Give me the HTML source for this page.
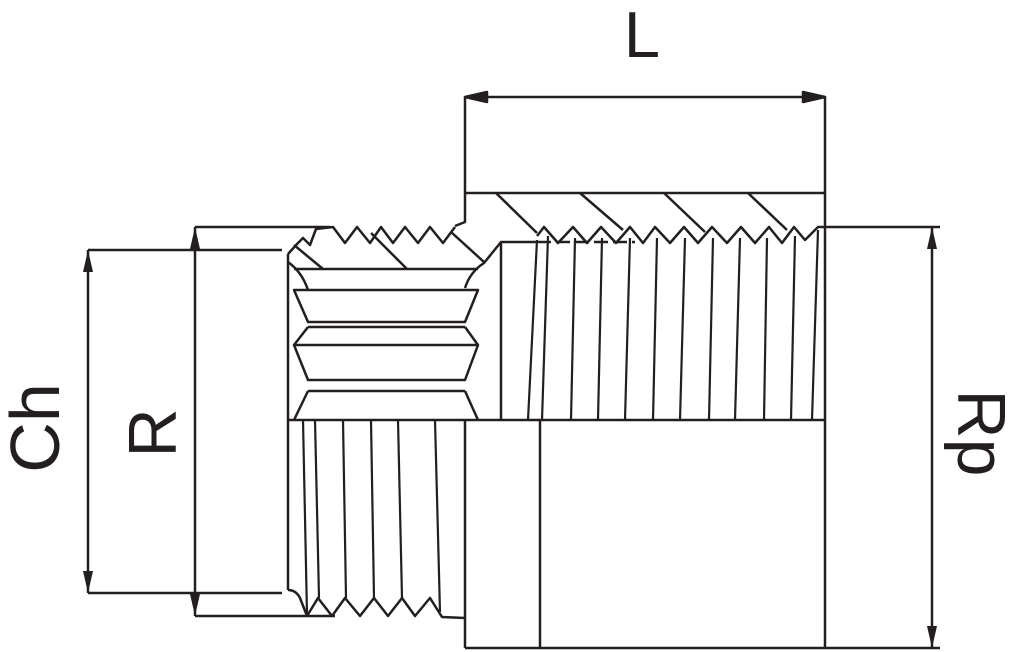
<!DOCTYPE html>
<html><head><meta charset="utf-8"><style>
html,body{margin:0;padding:0;background:#fff;width:1024px;height:652px;overflow:hidden}
svg{display:block}
text{font-family:"Liberation Sans",sans-serif;fill:#231f20}
</style></head><body>
<svg width="1024" height="652" viewBox="0 0 1024 652" xmlns="http://www.w3.org/2000/svg">
<defs>
<marker id="a" viewBox="0 0 10 10" refX="10" refY="5" markerWidth="7" markerHeight="7" markerUnits="userSpaceOnUse" orient="auto" overflow="visible">
<path d="M-12,-3.5 L0,5 L-12,13.5 Z" transform="translate(10,0) scale(1) translate(-10,0)" fill="#231f20"/>
</marker>
</defs>
<g stroke="#231f20" stroke-width="2.5" fill="none" stroke-linejoin="round">
<!-- L dimension -->
<line x1="465" y1="97" x2="825" y2="97"/>
<polygon points="465,97 487,92 487,102" fill="#231f20"/>
<polygon points="825,97 803,92 803,102" fill="#231f20"/>
<!-- body outline right -->
<path d="M465,97 L465,222 L455,226"/>
<path d="M825,97 L825,648"/>
<line x1="465" y1="193" x2="825" y2="193"/>
<!-- hatch top band -->
<line x1="496" y1="193" x2="537" y2="233"/>
<line x1="580" y1="193" x2="623" y2="230"/>
<line x1="664" y1="193" x2="705" y2="232"/>
<line x1="748" y1="193" x2="787" y2="230"/>
<!-- female thread zigzag top -->
<path d="M537,236 L544,227 L558,243 L573,227 L587,243 L601,227 L616,243 L630,227 L643,243 L655,227 L670,243 L684,227 L698,243 L712,227 L727,243 L741,227 L755,243 L769,227 L782,243 L794,227 L805,240 L818,227 L825,227"/>
<line x1="825" y1="227" x2="940" y2="227"/>
<line x1="537" y1="242" x2="635" y2="242" stroke-dasharray="14,5"/>
<!-- female thread lines -->
<g stroke-width="2.2">
<line x1="537" y1="240" x2="528" y2="420"/>
<line x1="548" y1="236" x2="542" y2="420"/>
<line x1="575" y1="238" x2="571" y2="420"/>
<line x1="602" y1="238" x2="598" y2="420"/>
<line x1="630" y1="238" x2="625" y2="420"/>
<line x1="657" y1="238" x2="653" y2="420"/>
<line x1="685" y1="238" x2="680" y2="420"/>
<line x1="713" y1="238" x2="709" y2="420"/>
<line x1="740" y1="238" x2="735" y2="420"/>
<line x1="767" y1="238" x2="764" y2="420"/>
<line x1="795" y1="236" x2="791" y2="420"/>
<line x1="818" y1="230" x2="812" y2="420"/>
</g>
<!-- bore -->
<path d="M465,288 Q470,272 484,263 L501,242 L537,242"/>
<line x1="501" y1="242" x2="501" y2="420"/>
<!-- male thread top -->
<line x1="195" y1="227" x2="330" y2="227"/>
<path d="M288,254 L288,590"/>
<path d="M288,254 L298,243 L303,238 L310,245 L316,229 L333,227 L345,243 L357,227 L370,243 L381,227 L393,243 L405,227 L418,243 L430,227 L443,243 L455,227"/>
<line x1="451" y1="232" x2="484" y2="262"/>
<line x1="371" y1="233" x2="407" y2="269"/>
<line x1="294" y1="245" x2="323" y2="269"/>
<!-- hex inner -->
<line x1="294" y1="269" x2="478" y2="269"/>
<path d="M288,262 Q302,272 308,290"/>
<path d="M294,290 L478,290 L465,322 L308,322 Z"/>
<line x1="308" y1="327" x2="465" y2="327"/>
<path d="M308,327 L294,345 L478,345 L465,327"/>
<path d="M294,345 L308,380 L465,380 L478,345"/>
<line x1="308" y1="391" x2="465" y2="391"/>
<path d="M308,391 L294,420 M465,391 L478,420"/>
<line x1="288" y1="420" x2="825" y2="420"/>
<!-- lower body -->
<line x1="465" y1="420" x2="465" y2="648"/>
<line x1="540" y1="420" x2="540" y2="648"/>
<line x1="465" y1="648" x2="940" y2="648"/>
<!-- male thread lower -->
<g stroke-width="2.2">
<line x1="303" y1="420" x2="307" y2="615"/>
<line x1="315" y1="420" x2="319" y2="598"/>
<line x1="343" y1="420" x2="346" y2="598"/>
<line x1="371" y1="420" x2="374" y2="598"/>
<line x1="398" y1="420" x2="402" y2="598"/>
<line x1="435" y1="420" x2="440" y2="612"/>
</g>
<path d="M288,590 Q296,590 300,598 L307,616 L318,598 L332,616 L345,598 L360,616 L374,598 L388,616 L402,598 L415,616 L430,598 L442,617 L465,618"/>
<!-- left dims -->
<line x1="195" y1="616" x2="335" y2="616"/>
<line x1="88" y1="250" x2="282" y2="250"/>
<line x1="88" y1="593" x2="282" y2="593"/>
<line x1="195" y1="227" x2="195" y2="616"/>
<line x1="88" y1="250" x2="88" y2="593"/>
<line x1="932" y1="227" x2="932" y2="648"/>
</g>
<g fill="#231f20">
<polygon points="195,227 190,249 200,249"/>
<polygon points="195,616 190,594 200,594"/>
<polygon points="88,250 83,272 93,272"/>
<polygon points="88,593 83,571 93,571"/>
<polygon points="932,227 927,249 937,249"/>
<polygon points="932,648 927,626 937,626"/>
</g>
<text x="642" y="57" font-size="65" text-anchor="middle">L</text>
<text transform="translate(59,428) rotate(-90)" font-size="70" text-anchor="middle">Ch</text>
<text transform="translate(176,433) rotate(-90)" font-size="68" text-anchor="middle">R</text>
<text transform="translate(958,433) rotate(90)" font-size="68" text-anchor="middle">Rp</text>
</svg>
</body></html>
